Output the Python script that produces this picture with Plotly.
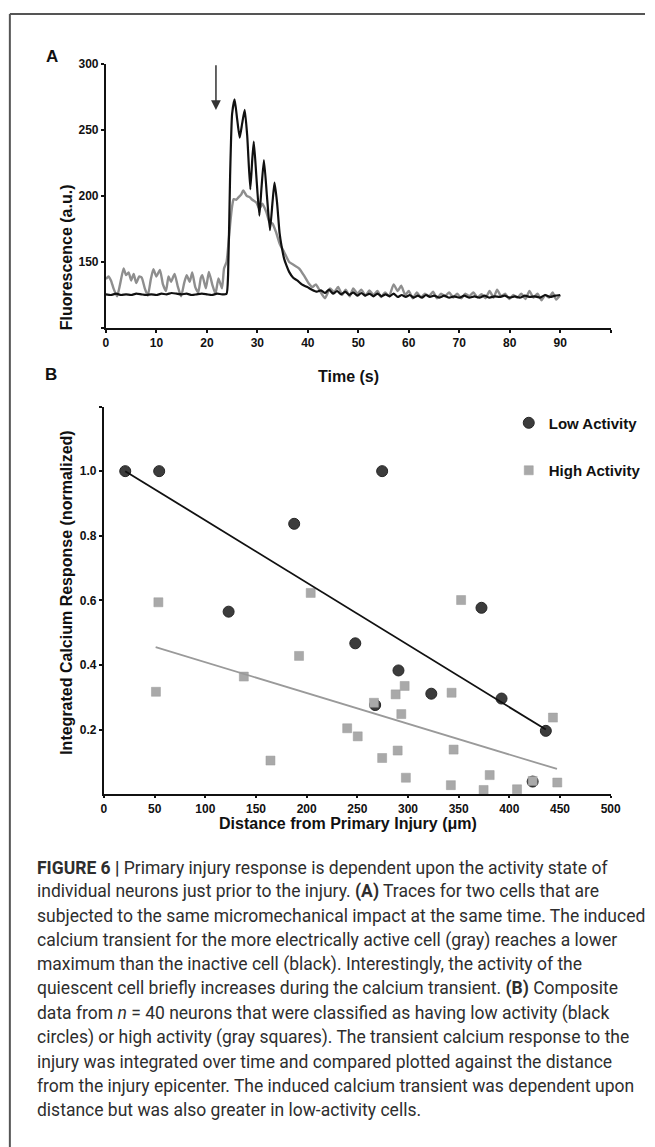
import plotly.graph_objects as go

W, H = 655, 1147

# ---------------- Panel A data ----------------
black_t = [0, 1, 2, 3, 4, 5, 6, 7, 8, 9, 10, 11, 12, 13, 14, 15, 16, 17, 18, 19, 20, 21, 22, 23, 23.9,
           24.2, 24.6, 25.0, 25.5, 26.0, 26.5, 27.0, 27.5, 28.0, 28.6, 29.0, 29.3, 29.8, 30.4, 30.8,
           31.3, 31.9, 32.5, 33.0, 33.4, 33.9, 34.4, 34.8, 35.3, 35.8, 36.3, 37.1, 37.9, 38.8, 39.9,
           40.8, 41.8, 42.6, 43.4, 44.2, 45, 45.8, 46.6, 47.4, 48.2, 49, 49.8, 50.6, 51.4, 52.2, 53,
           53.8, 54.6, 55.4, 56.2, 57, 57.8, 58.6, 59.4, 60.2, 61, 61.8, 62.6, 63.4, 64.2, 65, 66, 67,
           68, 69, 70, 71, 72, 73, 74, 75, 76, 77, 78, 79, 80, 81, 82, 83, 84, 85, 86, 87, 88, 89, 90]
black_v = [125.5, 125, 126, 125, 125.5, 125, 126, 125.5, 125, 125.5, 125, 126, 125.5, 126.5, 126, 125.5,
           126, 125, 125.5, 126, 125.5, 125, 126, 125.5, 126,
           140, 215, 262, 273, 258, 244, 255, 265, 245, 205, 228, 241, 215, 185, 205,
           227, 200, 174, 195, 210, 195, 172, 162, 152.5, 147, 142.5, 138, 136, 133, 131,
           129, 127.5, 128.5, 126.5, 129, 126, 128, 125.5, 127.5, 125, 127, 124.5, 126.5, 124.5, 126, 124,
           126, 124, 125.5, 124, 126, 123.5, 125, 123.5, 125, 123, 124.5, 123, 125, 123.5, 124.5, 123, 124.5,
           123, 124, 123, 124.5, 123, 124, 123, 124.5, 123, 124, 123.5, 124.5, 123, 124, 123, 124.5, 123.5,
           124, 123, 125, 123.5, 124.5, 125]

gray_t = [0.0, 0.5, 1.0, 1.5, 2.2, 2.8, 3.5, 4.0, 4.5, 5.0, 5.5, 6.0, 6.6, 7.1, 7.7, 8.3, 8.9, 9.4,
          10.0, 10.7, 11.3, 11.9, 12.4, 12.9, 13.6, 14.2, 14.9, 15.5, 16.0, 16.6, 17.1, 17.7, 18.3,
          18.8, 19.1, 19.8, 20.4, 21.1, 21.7, 22.3, 23.0, 23.4, 23.9, 24.3, 24.6, 25.0, 25.3, 25.8,
          26.3, 26.8, 27.2, 27.9, 28.5, 29.0, 29.8, 30.4, 31.0, 31.8, 32.4, 33.0, 33.7, 34.4, 35.3,
          36.3, 37.3, 38.3, 39.2, 40.2, 40.9, 41.6, 42.4, 43.4, 44.4, 45.2, 46, 46.8, 47.5, 48.3, 49,
          49.8, 50.6, 51.4, 52.2, 53, 53.8, 54.5, 55.3, 56.1, 57, 57.8, 58.5, 59.3, 60, 60.8, 61.6,
          62.4, 63.2, 64, 64.8, 65.6, 66.4, 67.2, 68, 68.8, 69.6, 70.4, 71.2, 72, 72.8, 73.6, 74.4,
          75.2, 76, 76.8, 77.5, 78.3, 79.1, 79.9, 80.7, 81.5, 82.3, 83.1, 83.9, 84.7, 85.5, 86.3, 87,
          87.8, 88.5, 89.2, 90]
gray_v = [137, 139, 136, 130, 124, 133, 145, 140, 142, 136, 141, 134, 139, 138, 130, 124.5, 137, 144.5,
          139, 144, 133, 128, 139, 135, 141, 132, 124, 134, 140, 135, 142, 131, 127,
          138, 140, 130, 142.5, 132.5, 126, 137.5, 130, 145, 150, 165, 178, 192, 197.5, 197,
          199, 201, 204, 200, 199, 197, 195, 190, 194, 187.5, 180, 179, 172.5, 164, 157.5,
          150, 147.5, 145, 140, 133.7, 131, 133, 128, 122.5, 130, 127, 131, 125, 129, 124, 130,
          126, 129, 124.5, 128.5, 125, 128, 123.5, 127, 124, 133, 128, 132, 125, 128, 122.5, 127,
          123, 126, 124, 127.5, 122.5, 126, 124, 127, 123, 126, 122.5, 126, 124, 127, 123, 125.5,
          122.5, 128, 123, 129, 124, 126, 122, 125, 123, 126, 122, 128, 123, 126, 121, 125,
          123, 127, 121.5, 125]

# injury arrow (time, fluorescence)
arrow_t = 21.8
arrow_tail_y = 300
arrow_tip_y = 265

timeTicks = [0, 10, 20, 30, 40, 50, 60, 70, 80, 90, 100]
timeTickText = ["0", "10", "20", "30", "40", "50", "60", "70", "80", "90", ""]
fluoTicks = [100, 150, 200, 250, 300]
fluoTickText = ["", "150", "200", "250", "300"]

# ---------------- Panel B data ----------------
low_x = [21, 54.5, 274.5, 187.7, 123, 248, 372.5, 290.6, 267.6, 323, 392.3, 436, 423]
low_y = [1.0, 1.0, 1.0, 0.837, 0.565, 0.467, 0.577, 0.383, 0.276, 0.311, 0.296, 0.196, 0.039]

high_x = [53.7, 204, 352.4, 192.5, 138, 51.3, 287.8, 296.7, 343, 266.4, 293.4, 443, 240, 250.4,
          164.3, 289.8, 345, 274.5, 297.9, 342.3, 380.6, 374.6, 407.6, 423, 447.3]
high_y = [0.594, 0.623, 0.601, 0.428, 0.364, 0.317, 0.309, 0.335, 0.314, 0.283, 0.248, 0.237, 0.204,
          0.179, 0.104, 0.135, 0.138, 0.112, 0.051, 0.028, 0.059, 0.013, 0.015, 0.041, 0.036]

low_trend_x = [21, 436]
low_trend_y = [1.0, 0.2]
high_trend_x = [51, 447]
high_trend_y = [0.455, 0.078]

distTicks = [0, 50, 100, 150, 200, 250, 300, 350, 400, 450, 500]
respTicks = [0.2, 0.4, 0.6, 0.8, 1.0, 1.2]
respTickText = ["0.2", "0.4", "0.6", "0.8", "1.0", ""]

caption_lines = [
    "<b>FIGURE 6 |</b> Primary injury response is dependent upon the activity state of",
    "individual neurons just prior to the injury. <b>(A)</b> Traces for two cells that are",
    "subjected to the same micromechanical impact at the same time. The induced",
    "calcium transient for the more electrically active cell (gray) reaches a lower",
    "maximum than the inactive cell (black). Interestingly, the activity of the",
    "quiescent cell briefly increases during the calcium transient. <b>(B)</b> Composite",
    "data from <i>n</i> = 40 neurons that were classified as having low activity (black",
    "circles) or high activity (gray squares). The transient calcium response to the",
    "injury was integrated over time and compared plotted against the distance",
    "from the injury epicenter. The induced calcium transient was dependent upon",
    "distance but was also greater in low-activity cells.",
]

# ---------------- helpers ----------------
def px(x):
    return x / W

def py(y):
    return 1 - y / H

NARROW = "Liberation Sans Narrow, Arial Narrow, Liberation Sans, Arial, sans-serif"
CAP_FONT = "Roboto, Helvetica Neue, Liberation Sans, sans-serif"

fig = go.Figure()

# Panel A traces
fig.add_trace(go.Scatter(x=gray_t, y=gray_v, mode="lines", line=dict(color="#8e8e8e", width=2.4, shape="spline", smoothing=0.5),
                         xaxis="x", yaxis="y", showlegend=False, hoverinfo="skip"))
fig.add_trace(go.Scatter(x=black_t, y=black_v, mode="lines", line=dict(color="#111111", width=2.2, shape="spline", smoothing=0.5),
                         xaxis="x", yaxis="y", showlegend=False, hoverinfo="skip"))

# Panel B traces
fig.add_trace(go.Scatter(x=low_x, y=low_y, mode="markers", name="Low Activity", legendgroup="low",
                         marker=dict(symbol="circle", size=11, color="#3c3c3c", line=dict(color="#262626", width=1)),
                         xaxis="x2", yaxis="y2"))
fig.add_trace(go.Scatter(x=high_x, y=high_y, mode="markers", name="High Activity", legendgroup="high",
                         marker=dict(symbol="square", size=9, color="#a9a9a9", line=dict(color="#9a9a9a", width=0.5)),
                         xaxis="x2", yaxis="y2"))
fig.add_trace(go.Scatter(x=low_trend_x, y=low_trend_y, mode="lines", line=dict(color="#111111", width=1.8),
                         xaxis="x2", yaxis="y2", showlegend=False, hoverinfo="skip"))
fig.add_trace(go.Scatter(x=high_trend_x, y=high_trend_y, mode="lines", line=dict(color="#9a9a9a", width=1.8),
                         xaxis="x2", yaxis="y2", showlegend=False, hoverinfo="skip"))

axis_common = dict(showline=True, linecolor="#111111", linewidth=2, showgrid=False, zeroline=False,
                   ticks="outside", ticklen=3, tickwidth=1.5, tickcolor="#111111",
                   tickfont=dict(family=NARROW, size=12, color="#111111", weight="bold"))

fig.update_layout(
    width=W, height=H,
    margin=dict(l=0, r=0, t=0, b=0),
    paper_bgcolor="white", plot_bgcolor="white",
    xaxis=dict(domain=[px(105), px(620)], range=[0, 100], anchor="y",
               tickmode="array", tickvals=timeTicks, ticktext=timeTickText, **axis_common),
    yaxis=dict(domain=[py(323), py(57)], range=[100, 300], anchor="x",
               tickmode="array", tickvals=fluoTicks, ticktext=fluoTickText, **axis_common),
    xaxis2=dict(domain=[px(103), px(620)], range=[0, 500], anchor="y2",
                tickmode="array", tickvals=distTicks, **axis_common),
    yaxis2=dict(domain=[py(792), py(402)], range=[0, 1.2], anchor="x2",
                tickmode="array", tickvals=respTicks, ticktext=respTickText, **axis_common),
    legend=dict(x=px(516), y=py(402), xanchor="left", yanchor="top", bgcolor="rgba(0,0,0,0)",
                font=dict(family=NARROW, size=15, color="#111111", weight="bold"),
                tracegroupgap=25, itemsizing="trace"),
    showlegend=True,
)
fig.update_xaxes(ticklen=2, selector=dict(anchor="y2"))

ann = []
# panel letters
ann.append(dict(text="<b>A</b>", x=px(42), y=py(38), xref="paper", yref="paper", showarrow=False,
                font=dict(family="Liberation Sans, Arial", size=17, color="#111111")))
ann.append(dict(text="<b>B</b>", x=px(41), y=py(358), xref="paper", yref="paper", showarrow=False,
                font=dict(family="Liberation Sans, Arial", size=17, color="#111111")))
# axis titles
title_font = dict(family=NARROW, size=16, color="#111111")
ann.append(dict(text="<b>Fluorescence (a.u.)</b>", x=px(55), y=py(176), xref="paper", yref="paper",
                showarrow=False, textangle=-90, font=title_font))
ann.append(dict(text="<b>Time (s)</b>", x=px(353), y=py(361), xref="paper", yref="paper",
                showarrow=False, font=title_font))
ann.append(dict(text="<b>Integrated Calcium Response (normalized)</b>", x=px(54), y=py(589), xref="paper",
                yref="paper", showarrow=False, textangle=-90, font=title_font))
ann.append(dict(text="<b>Distance from Primary Injury (μm)</b>", x=px(352), y=py(832), xref="paper",
                yref="paper", showarrow=False, font=dict(family=NARROW, size=16, color="#111111")))
# injury arrow
ann.append(dict(text="", x=arrow_t, y=arrow_tip_y, ax=arrow_t, ay=arrow_tail_y, xref="x", yref="y",
                axref="x", ayref="y", showarrow=True, arrowhead=2, arrowsize=1.3, arrowwidth=1.5,
                arrowcolor="#333333"))
# caption
cap_y0 = 866
cap_dy = 24.4
for i, line in enumerate(caption_lines):
    ann.append(dict(text=line, x=px(33), y=py(cap_y0 + i * cap_dy), xref="paper", yref="paper",
                    xanchor="left", yanchor="middle", showarrow=False, align="left",
                    font=dict(family=CAP_FONT, size=17.5, color="#2e2e2e")))
fig.update_layout(annotations=ann)

# frame lines
fig.update_layout(shapes=[
    dict(type="line", xref="paper", yref="paper", x0=px(7), x1=1, y0=py(7), y1=py(7),
         line=dict(color="#555555", width=2)),
    dict(type="line", xref="paper", yref="paper", x0=px(7), x1=px(7), y0=py(7), y1=0,
         line=dict(color="#555555", width=2)),
])

fig.write_html("out.html", config={"displayModeBar": False},
               post_script="document.body.style.margin='0';document.body.style.overflow='hidden';")
